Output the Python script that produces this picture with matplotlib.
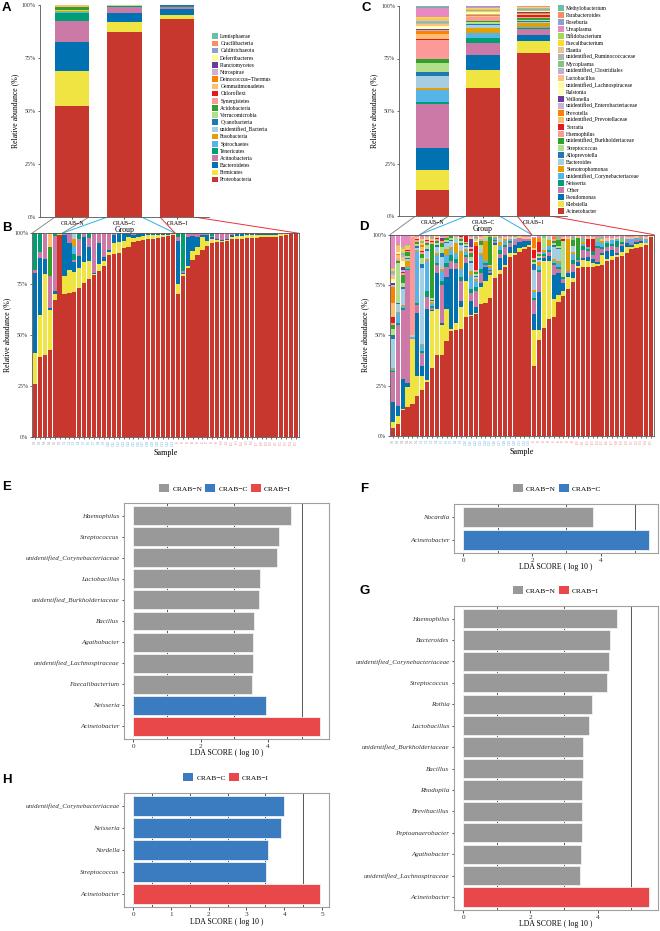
import numpy as np
import matplotlib
matplotlib.use('Agg')
import matplotlib.pyplot as plt
from matplotlib.patches import Patch, ConnectionPatch

plt.rcParams['font.family'] = ['Liberation Serif', 'DejaVu Serif']
plt.rcParams['axes.linewidth'] = 0.6

W, H = 660, 931
fig = plt.figure(figsize=(6.6, 9.31), dpi=100)


def px_axes(x0, y0, x1, y1):
    return fig.add_axes([x0 / W, 1 - y1 / H, (x1 - x0) / W, (y1 - y0) / H])

# ---------------------------------------------------------------- data
groups = ['CRAB\u2212N', 'CRAB\u2212C', 'CRAB\u2212I']

# Phylum legend (top -> bottom) and colours
phyla = ['Lentisphaerae', 'Gracilibacteria', 'Calditrichaeota', 'Deferribacteres',
         'Planctomycetes', 'Nitrospirae', 'Deinococcus\u2212Thermus', 'Gemmatimonadetes',
         'Chloroflexi', 'Synergistetes', 'Acidobacteria', 'Verrucomicrobia',
         'Cyanobacteria', 'unidentified_Bacteria', 'Fusobacteria', 'Spirochaetes',
         'Tenericutes', 'Actinobacteria', 'Bacteroidetes', 'Firmicutes', 'Proteobacteria']
phyla_colors = ['#66C2A5', '#FC8D62', '#8DA0CB', '#FFFF99', '#6A3D9A', '#CAB2D6',
                '#FF7F00', '#FDBF6F', '#E31A1C', '#FB9A99', '#33A02C', '#B2DF8A',
                '#1F78B4', '#A6CEE3', '#E69F00', '#56B4E9', '#009E73', '#CC79A7',
                '#0072B2', '#F0E442', '#C8372D']

# Panel A: group-level phylum abundance (%)
proteobacteria_grp = [52.4, 87.3, 93.4]
firmicutes_grp = [16.5, 4.5, 1.9]
bacteroidetes_grp = [13.7, 4.3, 2.7]
actinobacteria_grp = [9.9, 2.8, 1.2]
tenericutes_grp = [3.9, 0.5, 0.4]
spirochaetes_grp = [0.3, 0.1, 0.05]
fusobacteria_grp = [0.3, 0.1, 0.05]
unid_bacteria_grp = [0.2, 0.1, 0.05]
cyanobacteria_grp = [0.2, 0.05, 0.05]
verrucomicrobia_grp = [0.1, 0.05, 0.03]
acidobacteria_grp = [1.5, 0.1, 0.05]
synergistetes_grp = [0.1, 0.02, 0.02]
chloroflexi_grp = [0.1, 0.02, 0.02]
gemmatimonadetes_grp = [0.7, 0.05, 0.03]

# Samples (B and D)
samples_N = ['N1', 'N2', 'N3', 'N4', 'N5', 'N6']
samples_C = ['C%d' % i for i in range(1, 24)]
samples_I = ['I%d' % i for i in range(1, 26)]

# Panel B: sample-level phylum abundance (%)
proteobacteria_smp = [26, 39, 40, 42.5, 67, 99,
                      70, 70.5, 71, 73, 75.5, 77.5, 79.5, 81.5, 84, 89.5, 90, 90.5, 93, 93.5,
                      95.5, 96, 96.5, 97, 97, 97.5, 98, 98.5, 99,
                      70, 79, 83, 87, 89.5, 92, 94, 95, 95.5, 95.5, 96, 97, 97, 97.2, 97.5,
                      97.7, 97.9, 98, 98, 98.2, 98.4, 98.8, 99.2, 99.5, 99.7]
firmicutes_smp = [15, 21, 40, 20, 3, 0.7,
                  9, 11.5, 10, 10, 10.5, 9, 0.5, 3.5, 2.5, 1.5, 5, 5, 3, 4.5, 2, 2, 2, 2, 2,
                  1.5, 1, 0.5, 0.5,
                  5, 1, 1, 4.5, 4, 6, 2, 2, 1, 0.5, 0.5, 1, 1.5, 1.5, 1.5, 1.5, 1.3, 1.2, 1.2,
                  1.2, 1, 0.7, 0.5, 0.3, 0.2]
bacteroidetes_smp = [39.5, 28, 7.5, 1, 1.5, 0.1,
                     20, 13, 5, 6, 12, 7, 0.5, 10, 2, 1, 4, 4, 3.5, 1.5, 1.5, 1.5, 1, 0.5, 0.5,
                     0.5, 0.5, 0.5, 0.3,
                     21, 0.5, 14, 7, 4.5, 1, 3, 1, 0.5, 0.5, 0.5, 1, 1, 1, 0.7, 0.5, 0.5, 0.5,
                     0.5, 0.4, 0.4, 0.3, 0.2, 0.1, 0.05]
actinobacteria_smp = [1.5, 3, 12, 15.5, 27, 0.1,
                      0.5, 4.5, 1, 8, 1.5, 4, 19, 5, 11, 8, 1, 0.5, 0.5, 0.5, 1, 0.5, 0.5, 0.5,
                      0.5, 0.5, 0.5, 0.5, 0.2,
                      2, 1, 1.5, 1, 1.5, 0.5, 0.5, 0.5, 2.5, 3.5, 3, 1, 0.5, 0.3, 0.3, 0.3, 0.3,
                      0.3, 0.3, 0.2, 0.2, 0.2, 0.1, 0.1, 0.05]
tenericutes_smp = [17.5, 8.5, 0.3, 0, 1.5, 0.1,
                   0.5, 0.5, 3, 3, 0.5, 2.5, 0.5, 0, 0.5, 0, 0, 0, 0, 0, 0, 0, 0, 0, 0, 0, 0, 0, 0,
                   2, 18.5, 0.5, 0.5, 0.5, 0.5, 0.5, 1.5, 0.5, 0, 0, 0, 0, 0, 0, 0, 0, 0, 0, 0,
                   0, 0, 0, 0, 0]
spirochaetes_smp = {'C3': 4}
fusobacteria_smp = {'C3': 3}
unid_bacteria_smp = {'C3': 3}
acidobacteria_smp = {'N1': 0.5, 'N2': 0.5, 'N4': 14.5}
gemmatimonadetes_smp = {'N4': 6.5, 'N6': 0.1}

# Genus legend (top -> bottom) and colours
genera = ['Methylobacterium', 'Parabacteroides', 'Roseburia', 'Ureaplasma',
          'Bifidobacterium', 'Faecalibacterium', 'Blautia', 'unidentified_Ruminococcaceae',
          'Mycoplasma', 'unidentified_Clostridiales', 'Lactobacillus',
          'unidentified_Lachnospiraceae', 'Ralstonia', 'Veillonella',
          'unidentified_Enterobacteriaceae', 'Prevotella', 'unidentified_Prevotellaceae',
          'Serratia', 'Haemophilus', 'unidentified_Burkholderiaceae', 'Streptococcus',
          'Alloprevotella', 'Bacteroides', 'Stenotrophomonas',
          'unidentified_Corynebacteriaceae', 'Neisseria', 'Other', 'Pseudomonas',
          'Klebsiella', 'Acinetobacter']
genera_colors = ['#66C2A5', '#FC8D62', '#8DA0CB', '#E78AC3', '#A6D854', '#FFD92F',
                 '#E5C494', '#B3B3B3', '#7FC97F', '#BEAED4', '#FDC086', '#FFFF99',
                 '#FFFFB3', '#6A3D9A', '#CAB2D6', '#FF7F00', '#FDBF6F', '#E31A1C',
                 '#FB9A99', '#33A02C', '#B2DF8A', '#1F78B4', '#A6CEE3', '#E69F00',
                 '#56B4E9', '#009E73', '#CC79A7', '#0072B2', '#F0E442', '#C8372D']

# Panel C: group-level genus abundance (%), same order as `genera`
methylobacterium_grp = [0.3, 0.2, 0.2]
parabacteroides_grp = [0.3, 0.3, 0.2]
roseburia_grp = [0.4, 0.2, 0.1]
ureaplasma_grp = [4.1, 0.4, 0.3]
bifidobacterium_grp = [0.3, 0.3, 0.2]
faecalibacterium_grp = [1.0, 0.3, 0.2]
blautia_grp = [0.6, 0.3, 0.2]
ruminococcaceae_grp = [0.5, 0.3, 0.2]
mycoplasma_grp = [0.5, 0.3, 0.8]
clostridiales_grp = [0.6, 0.3, 0.2]
lactobacillus_grp = [1.1, 0.4, 0.3]
lachnospiraceae_grp = [0.5, 0.3, 0.2]
ralstonia_grp = [0.7, 0.3, 0.3]
veillonella_grp = [0.5, 0.2, 0.2]
enterobacteriaceae_grp = [0.5, 0.3, 0.2]
prevotella_grp = [1.6, 0.5, 0.4]
prevotellaceae_grp = [2.2, 0.5, 0.3]
serratia_grp = [0.5, 0.3, 1.0]
haemophilus_grp = [8.9, 1.6, 0.8]
burkholderiaceae_grp = [2.0, 0.8, 0.8]
streptococcus_grp = [4.2, 0.8, 0.6]
alloprevotella_grp = [2.0, 0.4, 0.5]
bacteroides_grp = [5.9, 1.3, 0.5]
stenotrophomonas_grp = [0.8, 2.4, 1.5]
corynebacteriaceae_grp = [5.6, 2.4, 0.7]
neisseria_grp = [1.1, 2.4, 0.6]
other_grp = [20.8, 5.8, 2.7]
pseudomonas_grp = [10.6, 7.2, 2.7]
klebsiella_grp = [9.5, 8.4, 6.0]
acinetobacter_grp = [12.4, 61.1, 77.5]

# Panel D: sample-level genus abundance (%)
acinetobacter_smp = [4, 6, 13, 14.5, 16, 20,
                     23, 27, 34, 40, 40.4, 47, 52, 52.5, 53.3, 59, 59.6, 60.6, 65.6, 66, 68.5,
                     78.5, 80.5, 83.8, 89, 90, 91.4, 93, 94,
                     35, 47.5, 53.5, 58.3, 59, 66.5, 69.5, 73, 76.5, 83.4, 83.8, 84, 84, 84.5,
                     85, 87, 87.5, 89, 89.5, 91, 93, 93.5, 94, 95, 99]
klebsiella_smp = [3, 4, 0.5, 10, 32, 10,
                  7, 1, 28, 23, 14.6, 16, 1, 3.5, 10.7, 18, 0.4, 0.4, 8.4, 11, 11.5, 16.5, 2, 1,
                  2, 1, 2, 1, 1,
                  17.5, 5, 33.5, 28.5, 9, 3.5, 2.5, 6, 2, 1, 3.8, 3, 2, 1, 5, 1, 2, 1, 2, 3, 1,
                  2, 2, 1, 0.5]
pseudomonas_smp = [10, 5, 15, 2, 0.3, 31,
                   5, 35, 0.5, 18, 1, 16, 30, 27, 3, 9, 7, 3, 2, 7, 1, 1, 6, 5, 3, 4, 3, 3, 2,
                   8, 19, 1.5, 2.5, 12, 11, 4, 2, 3, 2, 1, 2, 2, 1, 1, 4, 3, 1, 3, 2, 1, 1, 1,
                   0, 0]
other_smp = [15, 40, 34, 56, 0.3, 4,
             6, 6, 1, 4, 19, 5, 4, 3, 10, 3, 4, 8, 5, 1, 1, 1, 2, 4, 2, 2, 2, 1, 1,
             7, 10, 1, 2, 5, 2, 2, 1, 4, 1, 4, 3, 2, 7, 2, 2, 2, 3, 1, 1, 1, 1, 1, 0, 0]
neisseria_smp = [0.5, 1, 1, 0.5, 0.2, 1,
                 1, 3, 1, 1, 2, 2, 3, 2, 2, 1, 2, 2, 2, 1, 0.5, 0.5, 2, 1, 1, 0, 0, 0, 0,
                 1, 1, 1, 1, 1, 1, 1, 0, 2, 1, 2, 1, 2, 1, 1, 2, 1, 3, 1, 0, 0, 0, 0, 0, 0]
corynebacteriaceae_smp = [1, 5, 1, 1, 0.3, 26,
                          3, 15, 1, 4, 5, 4, 3, 3, 4, 2, 7, 3, 7, 1, 1, 1, 2, 2, 1, 1, 0, 0, 0,
                          3, 2, 1, 2, 1, 2, 0, 0, 3, 0, 1, 1, 0, 2, 2, 1, 2, 1, 0, 1, 2, 1, 0,
                          2, 0]
stenotrophomonas_smp = [0.5, 0.5, 0.5, 3, 0.2, 0.5,
                        0.5, 1, 1, 1, 1, 3, 1, 5, 9, 1, 2, 1, 1, 10, 1, 0.5, 2, 1, 0, 0, 0, 0,
                        0,
                        1, 2, 1, 3, 1, 1, 0, 16, 1, 0, 1, 0, 0, 0, 1, 0, 0, 0, 0, 0, 0, 0, 0,
                        0, 0]
bacteroides_smp = [14, 4, 8, 1, 0.3, 1,
                   38, 4, 0.5, 3, 6, 3, 3, 2, 3, 1, 4, 1, 2, 1, 0.5, 0, 1, 0, 0, 0, 0, 0, 0,
                   10, 1, 1, 1, 6, 6, 0, 0, 3, 0, 0, 0, 0, 0, 0, 0, 0, 0, 0, 0, 0, 0, 0, 0, 0]
alloprevotella_smp = [2, 0.5, 1, 0.5, 0.2, 1,
                      2, 1, 0.5, 1, 2, 0.5, 0.5, 0, 1, 0.5, 1, 0.5, 0, 0, 0, 0, 0, 0, 0, 0, 0,
                      0, 0,
                      3, 1, 0, 0, 1, 0.5, 0, 0, 0, 0, 0, 0, 0, 0, 0, 0, 0, 0, 0, 0, 0, 0, 0, 0,
                      0]
streptococcus_smp = [3, 20, 2, 1, 0.2, 1,
                     3, 2, 1, 1, 3, 1, 1, 1, 1, 1, 2, 1, 2, 1, 0, 0, 0, 0, 0, 0, 0, 0, 0,
                     1, 1, 5, 0, 1, 1, 18, 0, 0, 0, 0, 0, 0, 0, 0, 0, 0, 0, 0, 0, 0, 0, 0, 0, 0]
burkholderiaceae_smp = [2, 1, 4, 2, 0.2, 1,
                        2, 1, 27, 1, 2, 1, 1, 0, 1, 0.5, 2, 1, 2, 0, 14, 0, 0, 0, 0, 0, 0, 0, 0,
                        1, 1, 0, 0, 1, 3, 0, 0, 3, 10, 0, 0, 0, 0, 0, 0, 0, 0, 0, 0, 0, 0, 0,
                        0, 0]
haemophilus_smp = [1, 1, 1, 0.5, 48.5, 1,
                   1, 1, 1, 1, 1, 1, 0.5, 1, 1, 0.5, 1, 1, 1, 0, 0, 0, 0, 0, 0, 0, 0, 0, 0,
                   1, 1, 0, 0, 1, 0, 0, 0, 0, 0, 0, 0, 0, 0, 0, 0, 0, 0, 0, 0, 0, 0, 0, 0, 0]
serratia_smp = [3, 0, 0.5, 0.5, 0.3, 0.5,
                0.5, 0.5, 0.5, 0.3, 0.5, 0.5, 0, 0, 0.5, 3, 1, 12, 0, 0, 0, 0, 0, 0, 0, 0, 0,
                0, 0,
                4, 5, 0, 0, 0, 0, 1, 0, 0, 0, 0, 4, 6, 0, 0, 0, 0, 0, 0, 0, 0, 0, 0, 0, 0]
# minor genera (sparse: sample -> %)
prevotellaceae_smp = {'N1': 7, 'N2': 2, 'C1': 2, 'I1': 1}
prevotella_smp = {'N1': 8, 'N2': 0.5, 'C1': 1, 'C12': 2, 'I1': 5, 'I2': 2, 'I5': 1}
enterobacteriaceae_smp = {'N1': 1, 'N3': 1, 'C11': 1}
veillonella_smp = {'N1': 1, 'N3': 1.5, 'C5': 1, 'C11': 4}
ralstonia_smp = {'N1': 1, 'N3': 1, 'C12': 0.5}
lachnospiraceae_smp = {'N1': 1, 'N2': 1, 'N3': 2}
lactobacillus_smp = {'N1': 2, 'N2': 2, 'N3': 2, 'N4': 1, 'N5': 0.5, 'N6': 1, 'C1': 1,
                     'C2': 1, 'C3': 1, 'C4': 1, 'C5': 0.5, 'C6': 0.5, 'C10': 0.5, 'C11': 1,
                     'C12': 1, 'C13': 1, 'C14': 1, 'C16': 0.5, 'C17': 1, 'C18': 1, 'C19': 1,
                     'C20': 1, 'C21': 1, 'C22': 1, 'C23': 1, 'I4': 1, 'I7': 1, 'I8': 1,
                     'I10': 1, 'I12': 1, 'I13': 1, 'I15': 1, 'I16': 1.5, 'I17': 1, 'I18': 1,
                     'I20': 1, 'I21': 1, 'I22': 1, 'I24': 1}
clostridiales_smp = {'N1': 1, 'N3': 1}
mycoplasma_smp = {'N1': 0.5, 'N3': 1, 'C1': 1, 'C3': 1, 'C12': 1, 'C15': 1, 'C17': 0.5,
                  'C20': 1, 'I3': 1, 'I6': 1.5, 'I9': 1.5, 'I11': 2, 'I14': 2, 'I15': 1,
                  'I19': 2, 'I23': 1}
ruminococcaceae_smp = {'N1': 0.5}
blautia_smp = {'N1': 0.5, 'N2': 0.5, 'N3': 1, 'N4': 0.5, 'C2': 0.5}
faecalibacterium_smp = {'N1': 0.5, 'N2': 0.5, 'N3': 1, 'N4': 0.5, 'C1': 1}
bifidobacterium_smp = {'N1': 0.5, 'N2': 0.5, 'N3': 1, 'N4': 0.5}
ureaplasma_smp = {'N1': 16, 'N2': 5, 'N3': 6, 'N4': 5, 'N5': 0.5, 'N6': 1, 'C1': 2, 'C2': 1,
                  'C3': 1, 'C4': 0.7, 'C5': 1, 'C9': 0.5, 'C11': 1, 'C12': 1, 'C13': 1,
                  'C16': 0.5, 'C17': 1, 'C18': 1.2, 'C19': 1, 'C21': 0.6, 'C22': 1, 'C23': 1,
                  'I1': 0.5, 'I2': 1.5, 'I3': 0.5, 'I4': 0.7, 'I5': 1, 'I6': 1, 'I7': 1,
                  'I8': 1, 'I9': 1, 'I10': 0.6, 'I11': 1.4, 'I12': 1, 'I13': 1, 'I14': 1.5,
                  'I15': 1, 'I16': 1.5, 'I17': 1.5, 'I18': 1, 'I19': 1.5, 'I20': 1, 'I21': 1,
                  'I22': 0.5, 'I23': 1, 'I24': 1, 'I25': 0.5}
roseburia_smp = {'N1': 0.5}
parabacteroides_smp = {}
methylobacterium_smp = {}

# LEfSe LDA scores
lda_E_taxa = ['Haemophilus', 'Streptococcus', 'unidentified_Corynebacteriaceae',
              'Lactobacillus', 'unidentified_Burkholderiaceae', 'Bacillus', 'Agathobacter',
              'unidentified_Lachnospiraceae', 'Faecalibacterium', 'Neisseria', 'Acinetobacter']
lda_E_score = [4.69, 4.32, 4.27, 3.77, 3.72, 3.58, 3.54, 3.54, 3.51, 3.94, 5.53]
lda_E_group = ['N'] * 9 + ['C', 'I']

lda_F_taxa = ['Nocardia', 'Acinetobacter']
lda_F_score = [3.76, 5.39]
lda_F_group = ['N', 'C']

lda_G_taxa = ['Haemophilus', 'Bacteroides', 'unidentified_Corynebacteriaceae',
              'Streptococcus', 'Rothia', 'Lactobacillus', 'unidentified_Burkholderiaceae',
              'Bacillus', 'Rhodopila', 'Brevibacillus', 'Peptoanaerobacter', 'Agathobacter',
              'unidentified_Lachnospiraceae', 'Acinetobacter']
lda_G_score = [4.57, 4.37, 4.33, 4.29, 3.82, 3.74, 3.55, 3.55, 3.54, 3.53, 3.52, 3.49,
               3.47, 5.52]
lda_G_group = ['N'] * 13 + ['I']

lda_H_taxa = ['unidentified_Corynebacteriaceae', 'Neisseria', 'Nordella', 'Streptococcus',
              'Acinetobacter']
lda_H_score = [3.99, 3.91, 3.58, 3.51, 4.94]
lda_H_group = ['C', 'C', 'C', 'C', 'I']

# ---------------------------------------------------------------- style
lda_colors = {'N': '#999999', 'C': '#3A7CBF', 'I': '#E84849'}
lda_names = {'N': 'CRAB\u2212N', 'C': 'CRAB\u2212C', 'I': 'CRAB\u2212I'}
bracket_colors = ['#8C8C8C', '#2FB0E6', '#E8333D']
label_colors = ['#A8A8A8', '#5AAEDD', '#F08A8A']
FS_TICK = 4.2
FS_LAB = 5.6


def style_pct_axis(ax):
    ax.set_ylim(0, 100)
    ax.set_yticks([0, 25, 50, 75, 100])
    ax.set_yticklabels(['0%', '25%', '50%', '75%', '100%'], fontsize=FS_TICK)
    ax.tick_params(axis='y', length=1.8, width=0.5, pad=1, colors='#333333')
    ax.set_ylabel('Relative abundance (%)', fontsize=FS_LAB, labelpad=2)


def panel_letter(x, y, s):
    fig.text(x / W, 1 - y / H, s, fontsize=9.5, fontweight='bold',
             family=['Liberation Sans', 'DejaVu Sans'], ha='left', va='center')

# ---------------------------------------------------------------- A
phyla_grp_values = {
    'Proteobacteria': proteobacteria_grp, 'Firmicutes': firmicutes_grp,
    'Bacteroidetes': bacteroidetes_grp, 'Actinobacteria': actinobacteria_grp,
    'Tenericutes': tenericutes_grp, 'Spirochaetes': spirochaetes_grp,
    'Fusobacteria': fusobacteria_grp, 'unidentified_Bacteria': unid_bacteria_grp,
    'Cyanobacteria': cyanobacteria_grp, 'Verrucomicrobia': verrucomicrobia_grp,
    'Acidobacteria': acidobacteria_grp, 'Synergistetes': synergistetes_grp,
    'Chloroflexi': chloroflexi_grp, 'Gemmatimonadetes': gemmatimonadetes_grp}

axA = px_axes(39.5, 5, 209.5, 217)
xg = np.arange(3)
bottom = np.zeros(3)
for name, col in zip(phyla[::-1], phyla_colors[::-1]):
    if name in phyla_grp_values:
        v = np.array(phyla_grp_values[name], dtype=float)
        axA.bar(xg, v, bottom=bottom, width=0.65, color=col, edgecolor='none', zorder=2)
        bottom += v
axA.set_xlim(-0.62, 2.62)
style_pct_axis(axA)
axA.set_xticks(xg)
axA.set_xticklabels(groups, fontsize=FS_TICK)
axA.tick_params(axis='x', length=1.5, width=0.5, pad=1.5)
axA.set_xlabel('Group', fontsize=FS_LAB, labelpad=0)
for s in ['top', 'right']:
    axA.spines[s].set_visible(False)
for s in ['left', 'bottom']:
    axA.spines[s].set_color('#555555')
hA = [Patch(facecolor=c, edgecolor='none') for c in phyla_colors]
fig.legend(hA, phyla, loc='upper left', bbox_to_anchor=(212 / W, 1 - 33.5 / H),
           frameon=False, fontsize=4.0, handlelength=1.15, handleheight=1.15,
           labelspacing=0.275, handletextpad=0.35, borderpad=0, borderaxespad=0)

# ---------------------------------------------------------------- C
genera_grp_values = [methylobacterium_grp, parabacteroides_grp, roseburia_grp, ureaplasma_grp,
                     bifidobacterium_grp, faecalibacterium_grp, blautia_grp,
                     ruminococcaceae_grp, mycoplasma_grp, clostridiales_grp,
                     lactobacillus_grp, lachnospiraceae_grp, ralstonia_grp, veillonella_grp,
                     enterobacteriaceae_grp, prevotella_grp, prevotellaceae_grp, serratia_grp,
                     haemophilus_grp, burkholderiaceae_grp, streptococcus_grp,
                     alloprevotella_grp, bacteroides_grp, stenotrophomonas_grp,
                     corynebacteriaceae_grp, neisseria_grp, other_grp, pseudomonas_grp,
                     klebsiella_grp, acinetobacter_grp]
axC = px_axes(399, 6, 567, 216)
bottom = np.zeros(3)
for v, col in zip(genera_grp_values[::-1], genera_colors[::-1]):
    v = np.array(v, dtype=float)
    axC.bar(xg, v, bottom=bottom, width=0.65, color=col, edgecolor='none', zorder=2)
    bottom += v
axC.set_xlim(-0.65, 2.65)
style_pct_axis(axC)
axC.set_xticks(xg)
axC.set_xticklabels(groups, fontsize=FS_TICK)
axC.tick_params(axis='x', length=1.5, width=0.5, pad=1.5)
axC.set_xlabel('Group', fontsize=FS_LAB, labelpad=0)
for s in ['top', 'right']:
    axC.spines[s].set_visible(False)
for s in ['left', 'bottom']:
    axC.spines[s].set_color('#555555')
hC = [Patch(facecolor=c, edgecolor='none') for c in genera_colors]
fig.legend(hC, genera, loc='upper left', bbox_to_anchor=(558 / W, 1 - 5 / H),
           frameon=False, fontsize=4.0, handlelength=1.15, handleheight=1.15,
           labelspacing=0.245, handletextpad=0.35, borderpad=0, borderaxespad=0)

# ---------------------------------------------------------------- B / D
samples = samples_N + samples_C + samples_I
sample_cols = ([label_colors[0]] * len(samples_N) + [label_colors[1]] * len(samples_C)
               + [label_colors[2]] * len(samples_I))
xs = np.arange(len(samples))
nN, nC = len(samples_N), len(samples_C)
bounds = [-0.6, nN - 0.5, nN + nC - 0.5, len(samples) - 0.4]


def stacked_samples(ax, layers):
    bot = np.zeros(len(samples))
    for vals, col in layers:
        if isinstance(vals, dict):
            v = np.array([vals.get(s, 0.0) for s in samples], dtype=float)
        else:
            v = np.array(vals, dtype=float)
        ax.bar(xs, v, bottom=bot, width=0.86, color=col, edgecolor='none', zorder=2)
        bot += v
    ax.set_xlim(bounds[0], bounds[-1])
    style_pct_axis(ax)
    ax.set_xticks(xs)
    ax.set_xticklabels(samples, rotation=90, fontsize=2.6)
    for t, c in zip(ax.get_xticklabels(), sample_cols):
        t.set_color(c)
    ax.tick_params(axis='x', length=1.2, width=0.4, pad=1)
    ax.set_xlabel('Sample', fontsize=FS_LAB + 0.3, labelpad=2)
    for s in ax.spines.values():
        s.set_color('#555555')
        s.set_linewidth(0.6)


axB = px_axes(32, 233.3, 299, 436.7)
pc = dict(zip(phyla, phyla_colors))
stacked_samples(axB, [
    (proteobacteria_smp, pc['Proteobacteria']), (firmicutes_smp, pc['Firmicutes']),
    (bacteroidetes_smp, pc['Bacteroidetes']), (actinobacteria_smp, pc['Actinobacteria']),
    (tenericutes_smp, pc['Tenericutes']), (spirochaetes_smp, pc['Spirochaetes']),
    (fusobacteria_smp, pc['Fusobacteria']), (unid_bacteria_smp, pc['unidentified_Bacteria']),
    (acidobacteria_smp, pc['Acidobacteria']), (gemmatimonadetes_smp, pc['Gemmatimonadetes'])])

axD = px_axes(390, 234.7, 654, 436)
gc = dict(zip(genera, genera_colors))
stacked_samples(axD, [
    (acinetobacter_smp, gc['Acinetobacter']), (klebsiella_smp, gc['Klebsiella']),
    (pseudomonas_smp, gc['Pseudomonas']), (other_smp, gc['Other']),
    (neisseria_smp, gc['Neisseria']),
    (corynebacteriaceae_smp, gc['unidentified_Corynebacteriaceae']),
    (stenotrophomonas_smp, gc['Stenotrophomonas']), (bacteroides_smp, gc['Bacteroides']),
    (alloprevotella_smp, gc['Alloprevotella']), (streptococcus_smp, gc['Streptococcus']),
    (burkholderiaceae_smp, gc['unidentified_Burkholderiaceae']),
    (haemophilus_smp, gc['Haemophilus']), (serratia_smp, gc['Serratia']),
    (prevotellaceae_smp, gc['unidentified_Prevotellaceae']),
    (prevotella_smp, gc['Prevotella']),
    (enterobacteriaceae_smp, gc['unidentified_Enterobacteriaceae']),
    (veillonella_smp, gc['Veillonella']), (ralstonia_smp, gc['Ralstonia']),
    (lachnospiraceae_smp, gc['unidentified_Lachnospiraceae']),
    (lactobacillus_smp, gc['Lactobacillus']),
    (clostridiales_smp, gc['unidentified_Clostridiales']),
    (mycoplasma_smp, gc['Mycoplasma']),
    (ruminococcaceae_smp, gc['unidentified_Ruminococcaceae']),
    (blautia_smp, gc['Blautia']), (faecalibacterium_smp, gc['Faecalibacterium']),
    (bifidobacterium_smp, gc['Bifidobacterium']), (ureaplasma_smp, gc['Ureaplasma']),
    (roseburia_smp, gc['Roseburia']), (parabacteroides_smp, gc['Parabacteroides']),
    (methylobacterium_smp, gc['Methylobacterium'])])

# brackets linking group bars to sample ranges
for axTop, axBot in [(axA, axB), (axC, axD)]:
    for i in range(3):
        for xa, xb in [(i - 0.325, bounds[i]), (i + 0.325, bounds[i + 1])]:
            con = ConnectionPatch(xyA=(xa, 0), coordsA='data', axesA=axTop,
                                  xyB=(xb, 100), coordsB='data', axesB=axBot,
                                  color=bracket_colors[i], lw=0.7, zorder=0)
            fig.add_artist(con)

# ---------------------------------------------------------------- LDA panels


def lda_panel(box, taxa, scores, grp, leg_groups, leg_center, ticks, minor_lines):
    ax = px_axes(*box)
    n = len(taxa)
    y = np.arange(n)[::-1]
    ax.barh(y, scores, height=0.9, color=[lda_colors[g] for g in grp],
            edgecolor='#F2F2F2', linewidth=0.6, zorder=2)
    m = max(scores)
    ax.set_xlim(-0.05 * m, 1.05 * m)
    ax.set_ylim(-0.6, n - 0.4)
    for xv in minor_lines:
        ax.axvline(xv, color='#555555', lw=0.7, zorder=1)
    ax.set_yticks(y)
    ax.set_yticklabels(taxa, fontsize=5.0, style='italic')
    ax.set_xticks(ticks)
    ax.set_xticklabels([str(t) for t in ticks], fontsize=5.2)
    ax.tick_params(axis='both', length=1.8, width=0.6, pad=1.5, colors='#333333')
    ax.set_xlabel('LDA SCORE ( log 10 )', fontsize=5.6, labelpad=0.5)
    for s in ax.spines.values():
        s.set_color('#A0A0A0')
        s.set_linewidth(0.8)
    handles = [Patch(facecolor=lda_colors[g], edgecolor='none') for g in leg_groups]
    fig.legend(handles, [lda_names[g] for g in leg_groups], loc='center',
               bbox_to_anchor=(leg_center[0] / W, 1 - leg_center[1] / H), ncol=len(handles),
               frameon=False, fontsize=5.4, handlelength=1.35, handleheight=1.35,
               handletextpad=0.4, columnspacing=0.4, borderpad=0, borderaxespad=0)
    return ax


lda_panel((124, 503, 329, 739), lda_E_taxa, lda_E_score, lda_E_group, ['N', 'C', 'I'],
          (225, 488), [0, 2, 4], [1, 3, 5])
lda_panel((454, 504, 658, 553), lda_F_taxa, lda_F_score, lda_F_group, ['N', 'C'],
          (557, 488), [0, 2, 4], [1, 3, 5])
lda_panel((454, 605.7, 658, 910), lda_G_taxa, lda_G_score, lda_G_group, ['N', 'I'],
          (556, 590), [0, 2, 4], [1, 3, 5])
lda_panel((124, 792.7, 329, 907.3), lda_H_taxa, lda_H_score, lda_H_group, ['C', 'I'],
          (226, 777), [0, 1, 2, 3, 4, 5], [0.5, 1.5, 2.5, 3.5, 4.5])

# panel letters
for x, y, s in [(2, 8, 'A'), (2, 228, 'B'), (361, 8, 'C'), (359, 227, 'D'),
                (2, 487, 'E'), (360, 489, 'F'), (359, 591, 'G'), (2, 780, 'H')]:
    panel_letter(x, y, s)

fig.savefig('out.png', dpi=100)
